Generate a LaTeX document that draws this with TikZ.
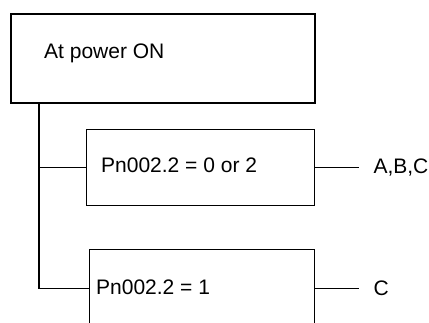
\documentclass[tikz,border=0pt]{standalone}
\usepackage{fontspec}
\setmainfont{Liberation Sans}
\usetikzlibrary{positioning, calc}

\begin{document}
\begin{tikzpicture}[
  x=1pt, y=-1pt,
  box/.style={
    rectangle, draw=black, line width=1.3pt,
    anchor=north west, inner sep=0pt
  },
  lbl/.style={anchor=west, inner sep=0pt, font=\fontsize{21}{25}\selectfont},
  wire/.style={line width=1.3pt},
]
  \useasboundingbox (0,0) rectangle (429,322);
  \clip (0,0) rectangle (429,322);

  % Boxes
  \node[box, line width=1.6pt, minimum width=304pt, minimum height=89pt] (power) at (10,13) {};
  \node[box, minimum width=228pt, minimum height=76pt] (cond1) at (86,129) {};
  \node[box, minimum width=225pt, minimum height=77pt] (cond2) at (89,249) {};

  % Texts in boxes
  \node[lbl] (powertxt) at ($(power.west)+(34,-5)$) {At power ON};
  \node[lbl] (cond1txt) at ($(cond1.west)+(15,-2)$) {Pn002.2 = 0 or 2};
  \node[lbl] (cond2txt) at ($(cond2.west)+(7,-1)$) {Pn002.2 = 1};

  % Results
  \node[lbl, inner xsep=14pt] (res1) at ($(cond1.east)+(44,0)$) {A,B,C};
  \node[lbl, inner xsep=14pt] (res2) at ($(cond2.east)+(44,0)$) {C};

  % Connectors
  \coordinate (trunk) at ($(power.south west)+(29,0)$);
  \draw[wire] (trunk) |- (cond1.west);
  \draw[wire] (trunk) |- (cond2.west);
  \draw[wire] (cond1.east) -- (res1.west);
  \draw[wire] (cond2.east) -- (res2.west);
\end{tikzpicture}
\end{document}
